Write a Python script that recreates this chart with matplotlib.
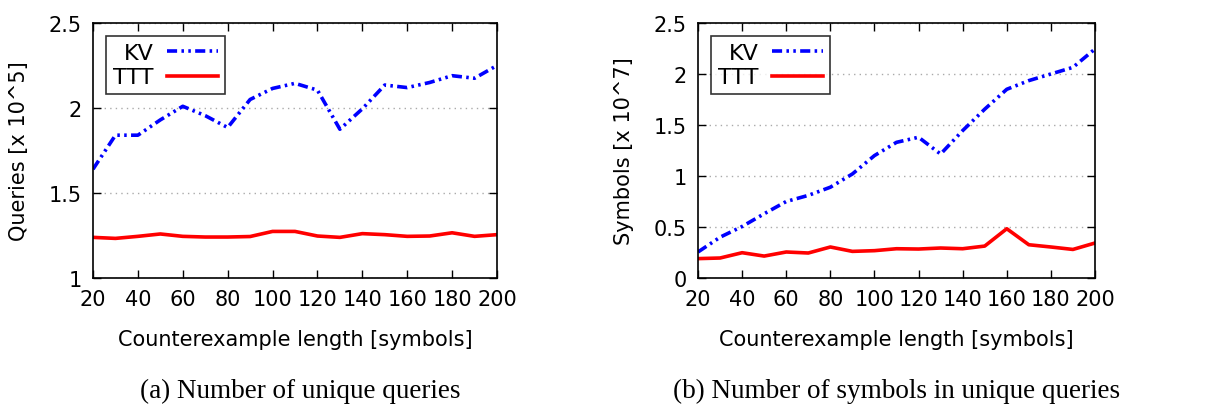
import matplotlib
matplotlib.use("Agg")
import matplotlib.pyplot as plt

# counterexample lengths
lengths = [20, 30, 40, 50, 60, 70, 80, 90, 100, 110, 120, 130, 140, 150, 160, 170, 180, 190, 200]

# (a) unique queries [x 10^5]
kv_queries = [1.64, 1.84, 1.84, 1.93, 2.01, 1.955, 1.885, 2.05, 2.115, 2.145, 2.105,
              1.875, 1.995, 2.135, 2.12, 2.15, 2.19, 2.175, 2.25]
ttt_queries = [1.239, 1.233, 1.245, 1.259, 1.245, 1.241, 1.241, 1.244, 1.274, 1.274, 1.247,
               1.239, 1.261, 1.255, 1.245, 1.247, 1.266, 1.245, 1.255]

# (b) symbols in unique queries [x 10^7]
kv_symbols = [0.255, 0.40, 0.505, 0.63, 0.75, 0.81, 0.89, 1.02, 1.20, 1.33, 1.38,
              1.215, 1.445, 1.655, 1.85, 1.935, 2.0, 2.065, 2.245]
ttt_symbols = [0.19, 0.196, 0.248, 0.215, 0.255, 0.245, 0.304, 0.261, 0.268, 0.287, 0.284,
               0.294, 0.287, 0.313, 0.483, 0.326, 0.304, 0.28, 0.343]

xticks = [20, 40, 60, 80, 100, 120, 140, 160, 180, 200]
yticks_a = [1, 1.5, 2, 2.5]
yticks_b = [0, 0.5, 1, 1.5, 2, 2.5]
ytick_labels_a = ["1", "1.5", "2", "2.5"]
ytick_labels_b = ["0", "0.5", "1", "1.5", "2", "2.5"]

fig = plt.figure(figsize=(12.11, 4.10), dpi=100)
ax1 = fig.add_axes([0.0768, 0.3195, 0.3336, 0.622])
ax2 = fig.add_axes([0.5764, 0.3195, 0.3278, 0.622])

kv_dash = (0, (2.8, 1.2, 0.7, 1.2, 0.7, 1.2))

def setup(ax, kv, ttt, yticks, ylabels, ylim, ylabel):
    ax.plot(lengths, kv, color="#0000ff", lw=2.6, linestyle=kv_dash, label="KV")
    ax.plot(lengths, ttt, color="#ff0000", lw=2.6, label="TTT")
    ax.set_xlim(20, 200)
    ax.set_ylim(*ylim)
    ax.set_xticks(xticks)
    ax.set_yticks(yticks)
    ax.set_yticklabels(ylabels)
    ax.tick_params(direction="in", top=True, right=True, length=6, width=1,
                   labelsize=15, pad=8)
    ax.yaxis.grid(True, linestyle=(0, (1, 3)), color="#aaaaaa", lw=1)
    for s in ax.spines.values():
        s.set_linewidth(1.2)
    ax.set_xlabel("Counterexample length [symbols]", fontsize=15, labelpad=14)
    ax.set_ylabel(ylabel, fontsize=15, labelpad=14)
    leg = ax.legend(loc="upper left", markerfirst=False, fontsize=16, frameon=True,
                    fancybox=False, edgecolor="black", handlelength=2.3,
                    borderaxespad=0.6, labelspacing=0.2, handletextpad=0.6,
                    borderpad=0.3)
    leg.get_frame().set_linewidth(1.2)
    for t in leg.get_texts():
        t.set_ha("right")
    leg._legend_box.align = "right"

setup(ax1, kv_queries, ttt_queries, yticks_a, ytick_labels_a, (1, 2.5), "Queries [x 10^5]")
setup(ax2, kv_symbols, ttt_symbols, yticks_b, ytick_labels_b, (0, 2.5), "Symbols [x 10^7]")

fig.text(0.248, 0.03, "(a) Number of unique queries", ha="center", fontsize=19.5,
         family="Liberation Serif")
fig.text(0.740, 0.03, "(b) Number of symbols in unique queries", ha="center", fontsize=19.5,
         family="Liberation Serif")

fig.savefig("out.png", dpi=100)
